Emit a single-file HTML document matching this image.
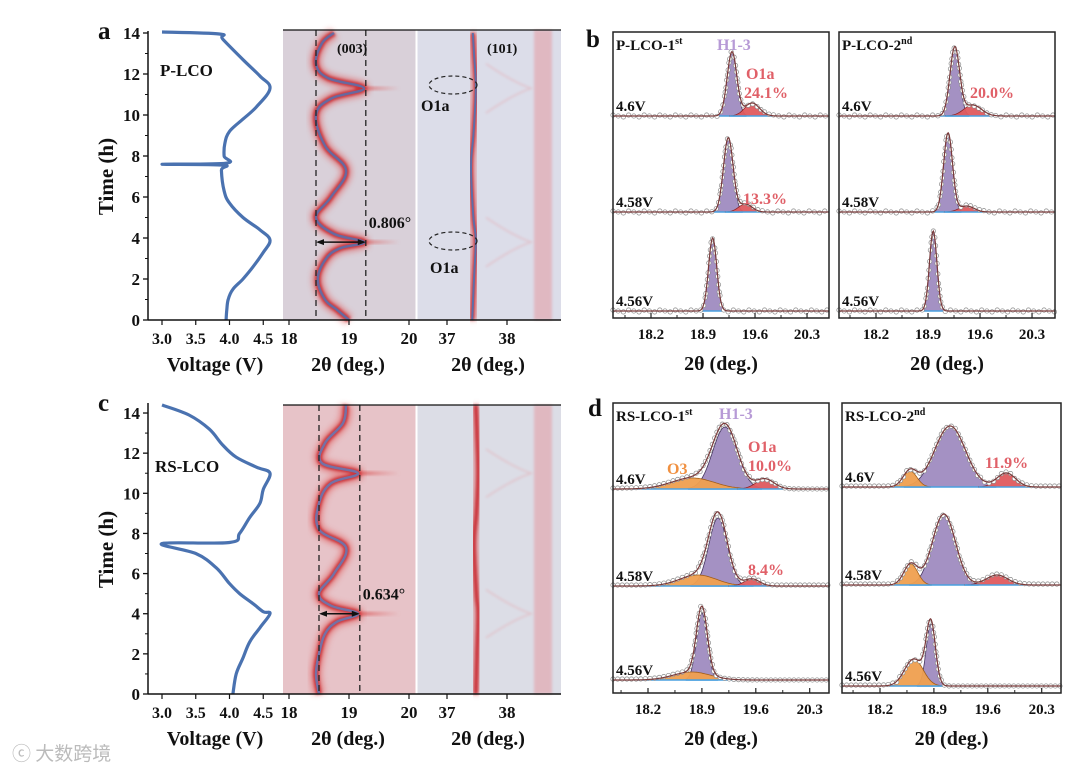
<!DOCTYPE html>
<html><head><meta charset="utf-8">
<style>
html,body{margin:0;padding:0;background:#fff;}
svg{display:block;font-family:"Liberation Serif","Noto Serif CJK SC",serif;font-weight:bold;}
</style></head>
<body>
<svg id="fig" width="1080" height="774" viewBox="0 0 1080 774" xmlns="http://www.w3.org/2000/svg">
<defs>
<filter id="blur3" x="-20%" y="-20%" width="140%" height="140%"><feGaussianBlur stdDeviation="3"/></filter>
<filter id="blur1" x="-20%" y="-20%" width="140%" height="140%"><feGaussianBlur stdDeviation="1.2"/></filter>
<linearGradient id="streak" x1="0" x2="1"><stop offset="0" stop-color="#d84848" stop-opacity="0.8"/><stop offset="1" stop-color="#e07070" stop-opacity="0"/></linearGradient>
</defs>
<g id="root"></g>
<text x="12" y="760" font-size="19" fill="#bbb" font-family="'Noto Sans CJK SC',sans-serif" font-weight="normal">ⓒ 大数跨境</text>
</svg>
<script>
// ---------- DATA ----------
const pVolt = [3.95,3.96,3.98,4.05,4.2,4.35,4.5,4.6,4.45,4.2,4.0,3.92,3.88,3.9,3.0,3.95,3.92,3.93,4.0,4.2,4.4,4.6,4.45,4.2,3.9,3.85,3.0];
const pTime = [0,0.5,1.0,1.5,2.0,2.6,3.3,3.9,4.4,5.0,5.7,6.3,7.3,7.55,7.6,7.65,8.0,8.6,9.2,9.8,10.4,11.3,11.9,12.7,13.7,13.95,14.05];
const rsVolt = [4.05,4.1,4.2,4.3,4.45,4.6,4.5,4.35,4.15,4.0,3.8,3.5,3.0,4.0,4.15,4.3,4.45,4.5,4.6,4.4,4.1,3.9,3.7,3.4,3.0];
const rsTime = [0,1.0,1.8,2.6,3.3,4.0,4.1,4.5,5.0,5.5,6.3,7.0,7.5,7.55,8.0,8.8,9.5,10.2,11.0,11.3,11.8,12.4,13.2,13.9,14.4];
const p003Time = [0,0.5,1,2,3,3.5,3.8,4.2,5,6,7.3,8.5,10,10.8,11.3,11.8,12.5,13.5,14];
const p003Angle = [19.0,18.8,18.6,18.48,18.62,18.85,19.25,18.75,18.45,18.7,18.95,18.6,18.45,18.7,19.25,18.65,18.45,18.55,18.75];
const rs003Time = [0,1,2,3,3.6,4.0,4.4,5,6,7.3,8.2,9.5,10.5,11.0,11.5,12.5,13.5,14.4];
const rs003Angle = [18.5,18.45,18.5,18.6,18.8,19.15,18.7,18.5,18.75,18.95,18.5,18.5,18.7,19.15,18.55,18.6,18.9,18.95];
const p101Time = [0,2,3.9,5,7.5,9,11.3,13,14];
const p101Angle = [37.42,37.45,37.48,37.44,37.4,37.44,37.48,37.45,37.43];
const rs101Time = [0,2,4,5,7.5,9,11,13,14.4];
const rs101Angle = [37.48,37.5,37.52,37.49,37.45,37.49,37.52,37.5,37.48];
const shiftLabels = ["0.806°","0.634°"];
const timeTicks = [0,2,4,6,8,10,12,14];
const voltTicks = ["3.0","3.5","4.0","4.5"];
const h1Ticks = [18,19,20];
const h2Ticks = [37,38];
const fitTicks = ["18.2","18.9","19.6","20.3"];
const b1Centers = [[19.29,19.56],[19.24,19.47],[19.03]];
const b1Heights = [[64,13],[74,8],[73]];
const b1Sigmas  = [[0.065,0.1],[0.065,0.09],[0.055]];
const b1Types   = [["h","o"],["h","o"],["h"]];
const b2Centers = [[19.26,19.5],[19.17,19.42],[18.97]];
const b2Heights = [[68,11],[79,6],[80]];
const b2Sigmas  = [[0.065,0.12],[0.06,0.1],[0.05]];
const b2Types   = [["h","o"],["h","o"],["h"]];
const d1Centers = [[19.2,18.78,19.72],[19.11,18.85,19.55],[18.9,18.77]];
const d1Heights = [[62,11,10],[68,11,7],[67,8]];
const d1Sigmas  = [[0.16,0.28,0.12],[0.12,0.24,0.1],[0.07,0.24]];
const d1Types   = [["h","r","o"],["h","r","o"],["h","r"]];
const d2Centers = [[19.11,18.59,19.84],[19.03,18.6,19.72],[18.86,18.64]];
const d2Heights = [[61,16,14],[71,21,10],[62,27]];
const d2Sigmas  = [[0.2,0.09,0.12],[0.15,0.09,0.14],[0.06,0.12]];
const d2Types   = [["h","r","o"],["h","r","o"],["h","r"]];
const rowLabels = ["4.6V","4.58V","4.56V"];

// ---------- HELPERS ----------
const NS = "http://www.w3.org/2000/svg";
const root = document.getElementById('root');
function mk(tag, attrs, parent, txt){
  const e = document.createElementNS(NS, tag);
  for (const k in attrs) e.setAttribute(k, attrs[k]);
  if (txt !== undefined) e.textContent = txt;
  (parent||root).appendChild(e);
  return e;
}
function label(x,y,t,size,name,anchor,fill){
  const e = mk('text',{x:x,y:y,'font-size':size,'text-anchor':anchor||'start',fill:fill||'#111'},root,t);
  
  
  return e;
}
function pathFrom(xs, ys){ return xs.map((x,i)=>(i?'L':'M')+x.toFixed(1)+' '+ys[i].toFixed(1)).join(' '); }
function smooth(xs, ys){
  let d = 'M'+xs[0].toFixed(1)+' '+ys[0].toFixed(1);
  for (let i=0;i<xs.length-1;i++){
    const x0=xs[Math.max(0,i-1)], y0=ys[Math.max(0,i-1)];
    const x1=xs[i], y1=ys[i], x2=xs[i+1], y2=ys[i+1];
    const x3=xs[Math.min(xs.length-1,i+2)], y3=ys[Math.min(xs.length-1,i+2)];
    const k=0.18;
    d += ` C${(x1+(x2-x0)*k).toFixed(1)} ${(y1+(y2-y0)*k).toFixed(1)} ${(x2-(x3-x1)*k).toFixed(1)} ${(y2-(y3-y1)*k).toFixed(1)} ${x2.toFixed(1)} ${y2.toFixed(1)}`;
  }
  return d;
}

// ---------- LEFT PANELS ----------
function drawLeft(cfg){
  const ty = t => cfg.y0 - t*cfg.ppt;
  const vx = v => 162 + (v-3)*67.5;
  const hx1 = d => 289 + (d-18)*60;
  const hx2 = d => 447 + (d-37)*60;
  const top = ty(cfg.tmax);
  let r = mk('rect',{x:283,y:cfg.hTop,width:133,height:cfg.y0-cfg.hTop,fill:cfg.bg1});
  
  
  r = mk('rect',{x:417,y:cfg.hTop,width:144,height:cfg.y0-cfg.hTop,fill:cfg.bg2});
  
  
  mk('rect',{x:hx2(38.45),y:cfg.hTop,width:18,height:cfg.y0-cfg.hTop,fill:'#e3a0a8',opacity:0.6,filter:'url(#blur1)'});
  cfg.tips.forEach(t=>{ mk('rect',{x:hx1(19.1),y:ty(t)-2,width:45,height:4,fill:'url(#streak)',filter:'url(#blur1)'}); });
  const xs1 = cfg.a003.map(hx1), ys1 = cfg.t003.map(ty);
  const d1 = smooth(xs1, ys1);
  mk('path',{d:d1,fill:'none',stroke:'#e05050','stroke-width':12,opacity:0.5,filter:'url(#blur3)','stroke-linejoin':'round'});
  mk('path',{d:d1,fill:'none',stroke:'#c82c30','stroke-width':6,opacity:0.85,filter:'url(#blur1)','stroke-linejoin':'round'});
  let p = mk('path',{d:d1,fill:'none',stroke:cfg.core,'stroke-width':2.5,opacity:0.9,'stroke-linejoin':'round'});
  
  
  const d2 = smooth(cfg.a101.map(hx2), cfg.t101.map(ty));
  mk('path',{d:d2,fill:'none',stroke:'#e05050','stroke-width':10,opacity:0.5,filter:'url(#blur3)'});
  p = mk('path',{d:d2,fill:'none',stroke:'#c82c30','stroke-width':4,opacity:0.9,filter:'url(#blur1)'});
  
  
  if (cfg.core101) mk('path',{d:d2,fill:'none',stroke:'#5d6ea8','stroke-width':2});
  cfg.tips.forEach(t=>{ mk('path',{d:`M${hx2(37.65)} ${ty(t-1.2)} Q${hx2(38.1)} ${ty(t-0.3)} ${hx2(38.4)} ${ty(t)} Q${hx2(38.1)} ${ty(t+0.3)} ${hx2(37.65)} ${ty(t+1.2)}`,fill:'none',stroke:'#e5a0a6','stroke-width':1.5,opacity:0.45,filter:'url(#blur1)'}); });
  mk('line',{x1:416.5,y1:cfg.hTop,x2:416.5,y2:cfg.y0,stroke:'#fff','stroke-width':2});
  [cfg.dash[0],cfg.dash[1]].forEach(dv=>{ mk('line',{x1:hx1(dv),y1:cfg.hTop,x2:hx1(dv),y2:cfg.y0,stroke:'#222','stroke-width':1.3,'stroke-dasharray':'6,4'}); });
  const ay = ty(cfg.arrowT);
  let a = mk('line',{x1:hx1(cfg.dash[0])+2,y1:ay,x2:hx1(cfg.dash[1])-2,y2:ay,stroke:'#111','stroke-width':1.5});
  
  
  mk('path',{d:`M${hx1(cfg.dash[0])} ${ay} l8 -3 v6 z M${hx1(cfg.dash[1])} ${ay} l-8 -3 v6 z`,fill:'#111'});
  label(hx1(cfg.dash[1])+3, ay-14, cfg.shift, 16, cfg.id+'-shift-label');
  p = mk('path',{d:smooth(cfg.volt.map(vx), cfg.time.map(ty)),fill:'none',stroke:'#4a72b0','stroke-width':3.2,'stroke-linejoin':'round'});
  
  
  mk('line',{x1:148,y1:top-2,x2:148,y2:cfg.y0,stroke:'#111','stroke-width':1.5});
  mk('line',{x1:148,y1:cfg.y0,x2:561,y2:cfg.y0,stroke:'#111','stroke-width':1.5});
  mk('line',{x1:283,y1:cfg.hTop,x2:561,y2:cfg.hTop,stroke:'#111','stroke-width':1.3});
  timeTicks.forEach(t=>{
    mk('line',{x1:143,y1:ty(t),x2:148,y2:ty(t),stroke:'#111','stroke-width':1.3});
    if (t+1<cfg.tmax) mk('line',{x1:145,y1:ty(t+1),x2:148,y2:ty(t+1),stroke:'#111','stroke-width':1});
    label(140, ty(t)+6, String(t), 17, cfg.id+'-y-tick-'+t, 'end');
  });
  voltTicks.forEach(v=>{
    const x = vx(parseFloat(v));
    mk('line',{x1:x,y1:cfg.y0,x2:x,y2:cfg.y0+5,stroke:'#111','stroke-width':1.2});
    label(x, cfg.y0+24, v, 16, cfg.id+'-volt-tick-'+v, 'middle');
  });
  h1Ticks.forEach(v=>{
    const x = hx1(v);
    mk('line',{x1:x,y1:cfg.y0,x2:x,y2:cfg.y0+5,stroke:'#111','stroke-width':1.2});
    label(x, cfg.y0+24, String(v), 17, cfg.id+'-003-tick-'+v, 'middle');
  });
  h2Ticks.forEach(v=>{
    const x = hx2(v);
    mk('line',{x1:x,y1:cfg.y0,x2:x,y2:cfg.y0+5,stroke:'#111','stroke-width':1.2});
    label(x, cfg.y0+24, String(v), 17, cfg.id+'-101-tick-'+v, 'middle');
  });
  label(215, cfg.y0+51, 'Voltage (V)', 20, cfg.id+'-voltage-axis-title', 'middle');
  label(348, cfg.y0+51, '2θ (deg.)', 20, cfg.id+'-003-axis-title', 'middle');
  label(488, cfg.y0+51, '2θ (deg.)', 20, cfg.id+'-101-axis-title', 'middle');
  const yt = label(0,0,'Time (h)', 21, cfg.id+'-y-axis-title', 'middle');
  yt.setAttribute('transform', `translate(113 ${(top+cfg.y0)/2}) rotate(-90)`);
  label(98, top+6, cfg.letter, 25, 'panel-letter-'+cfg.letter);
  label(cfg.nameX, cfg.nameY, cfg.name, 17, cfg.id+'-sample-label');
}

drawLeft({id:'panel-a',letter:'a',name:'P-LCO',nameX:160,nameY:76,y0:320,ppt:20.5,tmax:14,hTop:30,
  bg1:'#d9d0d9',bg2:'#dcdde9',core:'#5d6ea8',core101:true,volt:pVolt,time:pTime,t003:p003Time,a003:p003Angle,
  t101:p101Time,a101:p101Angle,tips:[3.8,11.3],dash:[18.45,19.28],arrowT:3.8,shift:shiftLabels[0]});
drawLeft({id:'panel-c',letter:'c',name:'RS-LCO',nameX:155,nameY:472,y0:694,ppt:20.07,tmax:14.4,hTop:405,
  bg1:'#e7c3c8',bg2:'#dcdde6',core:'#6a78b0',core101:false,volt:rsVolt,time:rsTime,t003:rs003Time,a003:rs003Angle,
  t101:rs101Time,a101:rs101Angle,tips:[4.0,11.0],dash:[18.5,19.18],arrowT:4.0,shift:shiftLabels[1]});
label(337,53,'(003)',14,'peak-003-label');
label(487,53,'(101)',14,'peak-101-label');
[[453,85],[453,241]].forEach((c,i)=>{
  const e = mk('ellipse',{cx:c[0],cy:c[1],rx:24,ry:9,fill:'none',stroke:'#222','stroke-width':1.2,'stroke-dasharray':'4,3'});
  
  
});
label(421,111,'O1a',16,'o1a-label-top');
label(430,273,'O1a',16,'o1a-label-bottom');

// ---------- RIGHT PANELS ----------
const colors = {h:['#a08cc0','#3a2a55'], o:['#e05a5e','#8a2020'], r:['#f0a050','#a05a10']};
function gauss(x,c,h,s){ return h*Math.exp(-0.5*((x-c)/s)**2); }
function drawFit(cfg){
  const X = d => cfg.t0 + (d-18.2)*cfg.ppd;
  const dmin = 18.2 - (cfg.t0-cfg.x0)/cfg.ppd, dmax = 18.2 + (cfg.x1-cfg.t0)/cfg.ppd;
  cfg.centers.forEach((cs,ri)=>{
    const base = cfg.bases[ri];
    cs.forEach((c,ci)=>{
      const h = cfg.heights[ri][ci], s = cfg.sigmas[ri][ci], ty = cfg.types[ri][ci];
      let pts = [];
      for (let d=c-3*s; d<=c+3*s; d+=s/12) pts.push([X(d), base - gauss(d,c,h,s)]);
      const dd = 'M'+X(c-3*s)+' '+base+' '+pts.map(p=>'L'+p[0].toFixed(1)+' '+p[1].toFixed(1)).join(' ')+' L'+X(c+3*s)+' '+base+' Z';
      const e = mk('path',{d:dd,fill:colors[ty][0],stroke:colors[ty][1],'stroke-width':0.8,opacity:0.95});
      
      
      mk('line',{x1:X(c-3*s),y1:base,x2:X(c+3*s),y2:base,stroke:'#4aa0e0','stroke-width':1.5});
    });
    const tot = d => cs.reduce((a,c,ci)=>a+gauss(d,c,cfg.heights[ri][ci],cfg.sigmas[ri][ci]),0);
    let xs=[], ys=[];
    for (let d=dmin; d<=dmax; d+=0.01){ xs.push(X(d)); ys.push(base - tot(d)); }
    let lastX=-99, lastY=-99;
    for (let i=0;i<xs.length;i++){
      if (Math.hypot(xs[i]-lastX, ys[i]-lastY) >= 4.5){
        mk('circle',{cx:xs[i],cy:ys[i]+((i%3)-1)*0.9,r:2.2,fill:'#fff',stroke:'#8a8a8a','stroke-width':0.7});
        lastX=xs[i]; lastY=ys[i];
      }
    }
    const f = mk('path',{d:pathFrom(xs,ys),fill:'none',stroke:'#7a3a3a','stroke-width':1.2});
    
    
    label(cfg.x0+3, base-5, rowLabels[ri], 15, cfg.id+'-row-label-'+ri);
  });
  const box = mk('rect',{x:cfg.x0,y:cfg.y0,width:cfg.x1-cfg.x0,height:cfg.y1-cfg.y0,fill:'none',stroke:'#222','stroke-width':1.5});
  
  
  fitTicks.forEach((t,i)=>{
    const v = parseFloat(t), x = X(v);
    mk('line',{x1:x,y1:cfg.y1,x2:x,y2:cfg.y1-5,stroke:'#222','stroke-width':1.2});
    const xm = X(v+0.35);
    if (xm<cfg.x1) mk('line',{x1:xm,y1:cfg.y1,x2:xm,y2:cfg.y1-3,stroke:'#222','stroke-width':1});
    const xm0 = X(v-0.35);
    if (i===0 && xm0>cfg.x0) mk('line',{x1:xm0,y1:cfg.y1,x2:xm0,y2:cfg.y1-3,stroke:'#222','stroke-width':1});
    label(x, cfg.y1+21, t, 15, cfg.id+'-x-tick-'+t, 'middle');
  });
  label((cfg.x0+cfg.x1)/2, cfg.y1+52, '2θ (deg.)', 20, cfg.id+'-x-axis-title', 'middle');
  const tt = label(cfg.x0+3, cfg.y0+18, cfg.title, 15, cfg.id+'-title');
  mk('tspan',{'font-size':10,dy:-6},tt,cfg.sup);
}
drawFit({id:'panel-b-1st',x0:613,x1:829,y0:32,y1:318,t0:651,ppd:74.3,bases:[116,212,311],centers:b1Centers,heights:b1Heights,sigmas:b1Sigmas,types:b1Types,title:'P-LCO-1',sup:'st'});
drawFit({id:'panel-b-2nd',x0:839,x1:1055,y0:32,y1:318,t0:876,ppd:74.3,bases:[116,212,311],centers:b2Centers,heights:b2Heights,sigmas:b2Sigmas,types:b2Types,title:'P-LCO-2',sup:'nd'});
drawFit({id:'panel-d-1st',x0:613,x1:829,y0:403,y1:693,t0:648,ppd:77,bases:[489,586,680],centers:d1Centers,heights:d1Heights,sigmas:d1Sigmas,types:d1Types,title:'RS-LCO-1',sup:'st'});
drawFit({id:'panel-d-2nd',x0:842,x1:1061,y0:403,y1:693,t0:880,ppd:77,bases:[487,585,686],centers:d2Centers,heights:d2Heights,sigmas:d2Sigmas,types:d2Types,title:'RS-LCO-2',sup:'nd'});
label(586,47,'b',25,'panel-letter-b');
label(588,416,'d',25,'panel-letter-d');
label(717,50,'H1-3',16,'h13-label-b','start','#b79ad6');
label(746,79,'O1a',16,'o1a-label-b','start','#e06068');
label(744,98,'24.1%',16,'pct-b-1st-46','start','#e06068');
label(970,98,'20.0%',16,'pct-b-2nd-46','start','#e06068');
label(743,204,'13.3%',16,'pct-b-1st-458','start','#e06068');
label(719,419,'H1-3',16,'h13-label-d','start','#b79ad6');
label(748,452,'O1a',16,'o1a-label-d','start','#e06068');
label(748,471,'10.0%',16,'pct-d-1st-46','start','#e06068');
label(667,474,'O3',16,'o3-label-d','start','#f09040');
label(748,575,'8.4%',16,'pct-d-1st-458','start','#e06068');
label(985,468,'11.9%',16,'pct-d-2nd-46','start','#e06068');
</script>
</body></html>
